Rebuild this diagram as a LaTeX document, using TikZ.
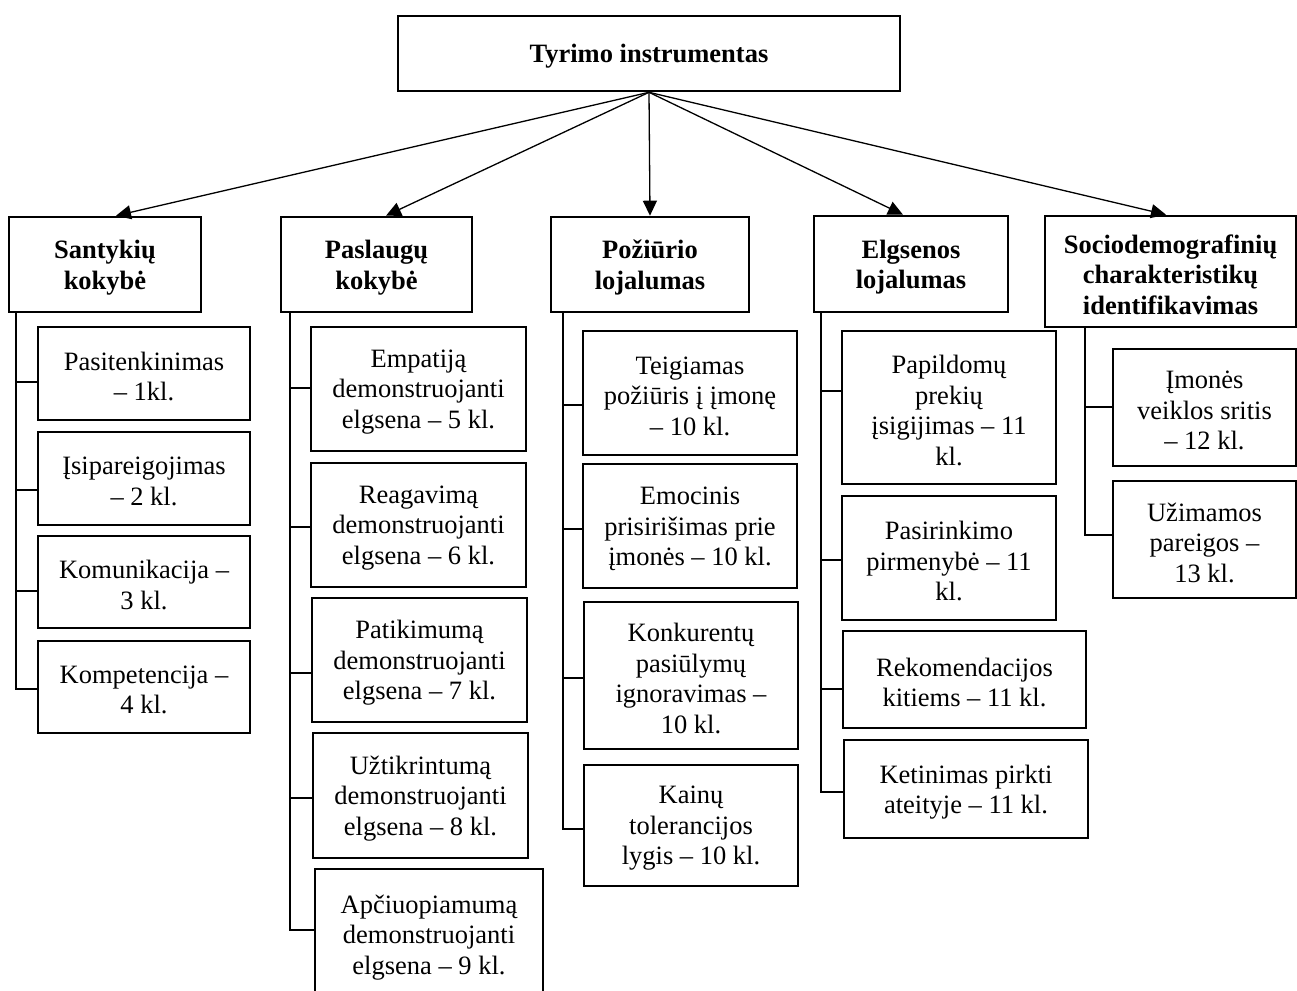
\documentclass[tikz,border=0pt]{standalone}
\usepackage{fontspec}
\setmainfont{Liberation Serif}
\usetikzlibrary{arrows.meta,calc}
\tikzset{
  hbox/.style={draw, line width=2.6pt, inner sep=0pt},
  cbox/.style={draw, line width=2pt, inner sep=0pt},
  htxt/.style={align=center, font=\fontsize{26.5}{30.5}\selectfont\bfseries, inner sep=0pt},
  ctxt/.style={align=center, font=\fontsize{26.5}{30.5}\selectfont, inner sep=0pt},
  arr/.style={line width=1.3pt, -{Triangle[length=15pt,width=14pt]}},
  tree/.style={line width=2pt},
}
\newcommand{\bx}[8]{%
  \node[#2, minimum width={(#5-#3)*1pt}, minimum height={(#6-#4)*1pt}] (#1) at ({(#3+#5)/2},{(#4+#6)/2}) {};
  \node[#7] (#1t) at ([yshift=-3pt]#1.center) {#8};
}
\begin{document}
\begin{tikzpicture}[x=1pt,y=-1pt]
\useasboundingbox (0,0) rectangle (1297,990);
% top
\bx{top}{hbox}{398}{16}{900}{91}{htxt}{Tyrimo instrumentas}
% headers
\bx{sant}{hbox}{9}{217}{201}{312}{htxt}{Santykių\\kokybė}
\bx{pasl}{hbox}{281}{217}{472}{312}{htxt}{Paslaugų\\kokybė}
\bx{poz}{hbox}{551}{217}{749}{312}{htxt}{Požiūrio\\lojalumas}
\bx{elg}{hbox}{814}{216}{1008}{312}{htxt}{Elgsenos\\lojalumas}
\bx{soc}{hbox}{1045}{216}{1296}{327}{htxt}{Sociodemografinių\\charakteristikų\\identifikavimas}
% arrows
\draw[arr] (top.south) -- ([xshift=11pt]sant.north);
\draw[arr] (top.south) -- ([xshift=9.5pt]pasl.north);
\draw[arr] (top.south) -- (poz.north);
\draw[arr] (top.south) -- ([xshift=-8pt]elg.north);
\draw[arr] (top.south) -- ([xshift=-4.5pt]soc.north);
% Santykiu children
\bx{s1}{cbox}{38}{327}{250}{420}{ctxt}{Pasitenkinimas\\– 1kl.}
\bx{s2}{cbox}{38}{432}{250}{525}{ctxt}{Įsipareigojimas\\– 2 kl.}
\bx{s3}{cbox}{38}{536}{250}{628}{ctxt}{Komunikacija –\\3 kl.}
\bx{s4}{cbox}{38}{641}{250}{733}{ctxt}{Kompetencija –\\4 kl.}
% Paslaugu children
\bx{p1}{cbox}{311}{327}{526}{451}{ctxt}{Empatiją\\demonstruojanti\\elgsena – 5 kl.}
\bx{p2}{cbox}{311}{463}{526}{587}{ctxt}{Reagavimą\\demonstruojanti\\elgsena – 6 kl.}
\bx{p3}{cbox}{312}{598}{527}{722}{ctxt}{Patikimumą\\demonstruojanti\\elgsena – 7 kl.}
\bx{p4}{cbox}{313}{733}{528}{858}{ctxt}{Užtikrintumą\\demonstruojanti\\elgsena – 8 kl.}
\bx{p5}{cbox}{315}{869}{543}{1000}{ctxt}{Apčiuopiamumą\\demonstruojanti\\elgsena – 9 kl.}
% Poziurio children
\bx{z1}{cbox}{583}{331}{797}{455}{ctxt}{Teigiamas\\požiūris į įmonę\\– 10 kl.}
\bx{z2}{cbox}{583}{464}{797}{588}{ctxt}{Emocinis\\prisirišimas prie\\įmonės – 10 kl.}
\bx{z3}{cbox}{584}{602}{798}{749}{ctxt}{Konkurentų\\pasiūlymų\\ignoravimas –\\10 kl.}
\bx{z4}{cbox}{584}{765}{798}{886}{ctxt}{Kainų\\tolerancijos\\lygis – 10 kl.}
% Elgsenos children
\bx{e1}{cbox}{842}{331}{1056}{484}{ctxt}{Papildomų\\prekių\\įsigijimas – 11\\kl.}
\bx{e2}{cbox}{842}{496}{1056}{620}{ctxt}{Pasirinkimo\\pirmenybė – 11\\kl.}
\bx{e3}{cbox}{843}{631}{1086}{728}{ctxt}{Rekomendacijos\\kitiems – 11 kl.}
\bx{e4}{cbox}{844}{740}{1088}{838}{ctxt}{Ketinimas pirkti\\ateityje – 11 kl.}
% Socio children
\bx{c1}{cbox}{1113}{349}{1296}{466}{ctxt}{Įmonės\\veiklos sritis\\– 12 kl.}
\bx{c2}{cbox}{1113}{481}{1296}{598}{ctxt}{Užimamos\\pareigos –\\13 kl.}
% tree lines
\coordinate (sT) at ([xshift=8pt]sant.south west);
\coordinate (pT) at ([xshift=10pt]pasl.south west);
\coordinate (zT) at ([xshift=13pt]poz.south west);
\coordinate (eT) at ([xshift=8pt]elg.south west);
\coordinate (cT) at ([xshift=41pt]soc.south west);
\draw[tree] (sT) |- (s4.west |- 0,689);
\draw[tree] (sT |- 0,382) -- (s1.west |- 0,382);
\draw[tree] (sT |- 0,490) -- (s2.west |- 0,490);
\draw[tree] (sT |- 0,591) -- (s3.west |- 0,591);
\draw[tree] (pT) |- (p5.west |- 0,930);
\draw[tree] (pT |- 0,388) -- (p1.west |- 0,388);
\draw[tree] (pT |- 0,527) -- (p2.west |- 0,527);
\draw[tree] (pT |- 0,673) -- (p3.west |- 0,673);
\draw[tree] (pT |- 0,798) -- (p4.west |- 0,798);
\draw[tree] (zT) |- (z4.west |- 0,829);
\draw[tree] (zT |- 0,405) -- (z1.west |- 0,405);
\draw[tree] (zT |- 0,529) -- (z2.west |- 0,529);
\draw[tree] (zT |- 0,678) -- (z3.west |- 0,678);
\draw[tree] (eT) |- (e4.west |- 0,792);
\draw[tree] (eT |- 0,391) -- (e1.west |- 0,391);
\draw[tree] (eT |- 0,560) -- (e2.west |- 0,560);
\draw[tree] (eT |- 0,689) -- (e3.west |- 0,689);
\draw[tree] (cT) |- (c2.west |- 0,535);
\draw[tree] (cT |- 0,407) -- (c1.west |- 0,407);
\end{tikzpicture}
\end{document}
